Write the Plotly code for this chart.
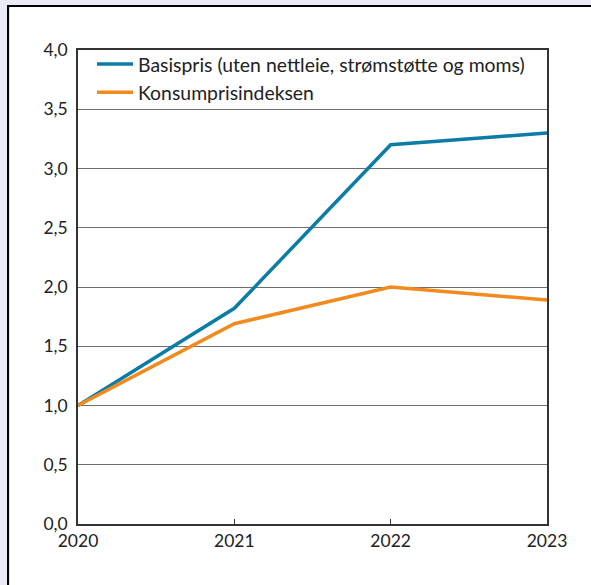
import plotly.graph_objects as go

years = [2020, 2021, 2022, 2023]
basispris = [1.0, 1.82, 3.2, 3.3]
kpi = [1.0, 1.69, 2.0, 1.89]
series_names = ["Basispris (uten nettleie, strømstøtte og moms)", "Konsumprisindeksen"]
y_ticks = [0, 0.5, 1.0, 1.5, 2.0, 2.5, 3.0, 3.5, 4.0]

BLUE = "#0b7ca6"
ORANGE = "#f28a1d"
FONT = "Lato"

L, T, R, B = 71, 45, 51, 66
PW, PH = 591 - L - R, 585 - T - B

fig = go.Figure()
fig.add_trace(go.Scatter(x=years, y=basispris, mode="lines", name=series_names[0],
                         line=dict(color=BLUE, width=3.5)))
fig.add_trace(go.Scatter(x=years, y=kpi, mode="lines", name=series_names[1],
                         line=dict(color=ORANGE, width=3.5)))

fig.update_layout(
    width=591, height=585,
    margin=dict(l=L, r=R, t=T, b=B),
    paper_bgcolor="white",
    plot_bgcolor="white",
    separators=", ",
    font=dict(family=FONT, size=17, color="#222"),
    showlegend=True,
    legend=dict(x=(92 - 78) / PW, y=1.0 + 5 / PH, xanchor="left", yanchor="top",
                bgcolor="rgba(0,0,0,0)", font=dict(size=19.4, family=FONT, color="#222"),
                tracegroupgap=0, itemwidth=36),
    shapes=[dict(type="rect", xref="paper", yref="paper",
                 x0=-(L - 1) / PW, x1=1.3, y0=-0.3, y1=1 + (T - 1) / PH,
                 fillcolor="rgba(0,0,0,0)", line=dict(color="black", width=2.2), layer="below")],
)
fig.update_xaxes(range=[2020, 2023], tickvals=years, ticktext=[str(y) for y in years],
                 showgrid=False, showline=True, linecolor="#333", linewidth=1.5, mirror=True,
                 ticks="inside", ticklen=5, tickcolor="#333", zeroline=False,
                 tickfont=dict(size=17.5, family=FONT))
fig.update_yaxes(range=[0, 4.0], tickvals=y_ticks, tickformat=".1f",
                 showgrid=True, gridcolor="#6e6e6e", gridwidth=1.2,
                 showline=True, linecolor="#333", linewidth=1.5, mirror=True,
                 ticks="", zeroline=False, ticklabelstandoff=5,
                 tickfont=dict(size=17.5, family=FONT))

fig.write_html(
    "out.html",
    post_script=("document.body.style.backgroundColor='#ebebf5';"
                 "document.body.style.margin='5px 0 0 7px';"
                 "document.body.style.overflow='hidden';"),
)
